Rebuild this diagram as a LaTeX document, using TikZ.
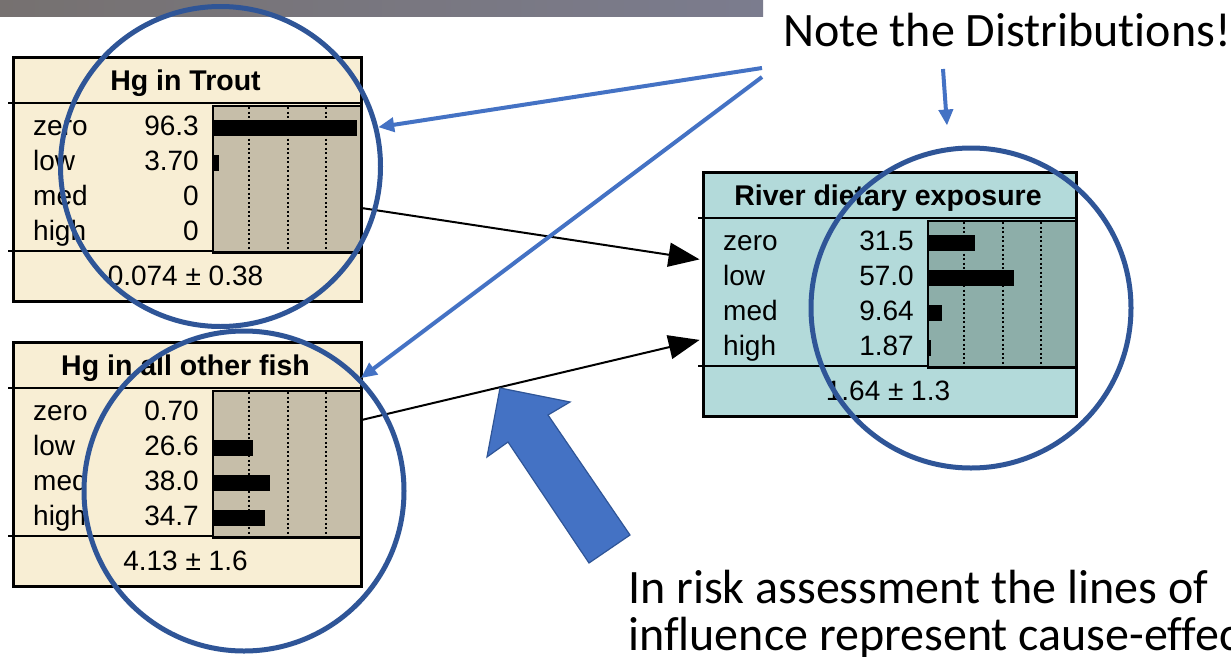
\documentclass[tikz,border=0pt]{standalone}
\usepackage{fontspec}
\setmainfont{Liberation Sans}
\newfontfamily\calloutfont[Ligatures=NoCommon]{Carlito}
\usetikzlibrary{arrows.meta,calc}

\definecolor{creambg}{HTML}{F8EED4}
\definecolor{creamchart}{HTML}{C6BEA9}
\definecolor{tealbg}{HTML}{B3DADA}
\definecolor{tealchart}{HTML}{8DAEA9}
\definecolor{ringblue}{HTML}{2F5597}
\definecolor{accentblue}{HTML}{4472C4}
\definecolor{bargrayA}{HTML}{767170}
\definecolor{bargrayB}{HTML}{7B7C8E}

\tikzset{
  boxframe/.style={draw=black, line width=3pt, inner sep=0pt, outer sep=0pt},
  rulew/.style={line width=2pt},
  chartframe/.style={draw=black, line width=2.5pt},
  gridline/.style={line width=2pt, dash pattern=on 2pt off 2.5pt},
  rowtext/.style={font=\fontsize{28}{32}\selectfont, inner sep=0pt},
  titletext/.style={font=\bfseries\fontsize{28.5}{32}\selectfont, inner sep=0pt},
  ring/.style={draw=ringblue, line width=5pt, circle, minimum size=320pt, inner sep=0pt},
  pointer/.style={draw=accentblue, line width=4pt, -{Triangle[length=16pt,width=14pt]}},
  link/.style={line width=2pt, -{Triangle[length=31pt,width=24pt]}},
  callout/.style={font=\calloutfont\fontsize{48}{48}\selectfont, inner sep=0pt},
}

% belief box: name, left x, top y, width, chart offset, palette, title, footer, rows
\newcommand\beliefbox[9]{%
  \begin{scope}[shift={(#2,#3)}]
    \node[boxframe, fill=#6bg, minimum width=#4pt-3pt, minimum height=244pt,
          anchor=north west] (#1) at (1.5,1.5) {};
    \draw[rulew] (-4,47) -- (#4,47);
    \draw[rulew] (-4,195) -- (#4,195);
    \fill[#6chart] (#5,50) rectangle (#4-1.5,196.5);
    \foreach \dx in {36,75,113}
      \draw[gridline] (#5+\dx,51) -- (#5+\dx,195);
    \foreach \lab/\val/\pct [count=\i] in {#9} {
      \node[rowtext, anchor=base west] (#1-lab-\i) at (21,79+35*\i-35) {\lab};
      \node[rowtext, anchor=base east] (#1-val-\i) at (#5-14,79+35*\i-35) {\val};
      \fill (#5,64+35*\i-35) rectangle ++(1.5*\pct,16);
    }
    \draw[chartframe] (#5,50) rectangle (#4-1.5,196.5);
    \node[titletext, anchor=base] (#1-title) at (#4/2-2,34) {#7};
    \node[rowtext, anchor=base] (#1-foot) at (#4/2-2,229) {#8};
  \end{scope}%
}

\begin{document}
\begin{tikzpicture}[x=1pt,y=-1pt]
  \useasboundingbox (0,0) rectangle (1231,656);
  \clip (0,0) rectangle (1231,656);
  \fill[white] (0,0) rectangle (1231,656);

  % title bar strip
  \shade[left color=bargrayA, right color=bargrayB] (0,0) rectangle (763,16);

  % network nodes
  \beliefbox{trout}{12}{56}{351}{201}{cream}{Hg in Trout}{0.074 ± 0.38}%
    {zero/96.3/96.3, low/3.70/3.70, med/0/0, high/0/0}
  \beliefbox{other}{12}{341}{351}{201}{cream}{Hg in all other fish}{4.13 ± 1.6}%
    {zero/0.70/0.70, low/26.6/26.6, med/38.0/38.0, high/34.7/34.7}
  \beliefbox{river}{702}{171}{376}{226}{teal}{River dietary exposure}{1.64 ± 1.3}%
    {zero/31.5/31.5, low/57.0/57.0, med/9.64/9.64, high/1.87/1.87}

  % lines of influence
  \draw[link, shorten >=4pt] ([yshift=-28.5pt]trout.east) -- ([yshift=34.5pt]river.west);
  \draw[link, shorten >=4pt] ([yshift=44.5pt]other.east) -- ([yshift=-44.5pt]river.west);

  % highlight rings
  \node[ring] (c1) at (220.5,166.5) {};
  \node[ring] (c2) at (244,491) {};
  \node[ring] (c3) at (971,308) {};

  % callouts
  \node[callout, anchor=base west] (note) at (783,46) {Note the Distributions!};
  \coordinate (p1) at (762,68);
  \coordinate (p2) at (762,77);
  \coordinate (p3) at (943,69);
  \draw[pointer] (p1) -- (c1.14);
  \draw[pointer] (p2) -- (c2.44);
  \draw[pointer] (p3) -- ($(c3.north)+(-24,-20)$);

  % block arrow
  \filldraw[fill=accentblue, draw=ringblue, line width=1.2pt, line join=miter]
    (500,388) -- (570,402) -- (548,415) -- (630,535) -- (589,563)
    -- (508,442) -- (487,457) -- cycle;

  \node[callout, anchor=base west] (cause1) at (628,603) {In risk assessment the lines of};
  \node[callout, anchor=base west] (cause2) at (628,650) {influence represent cause-effec};
\end{tikzpicture}
\end{document}
